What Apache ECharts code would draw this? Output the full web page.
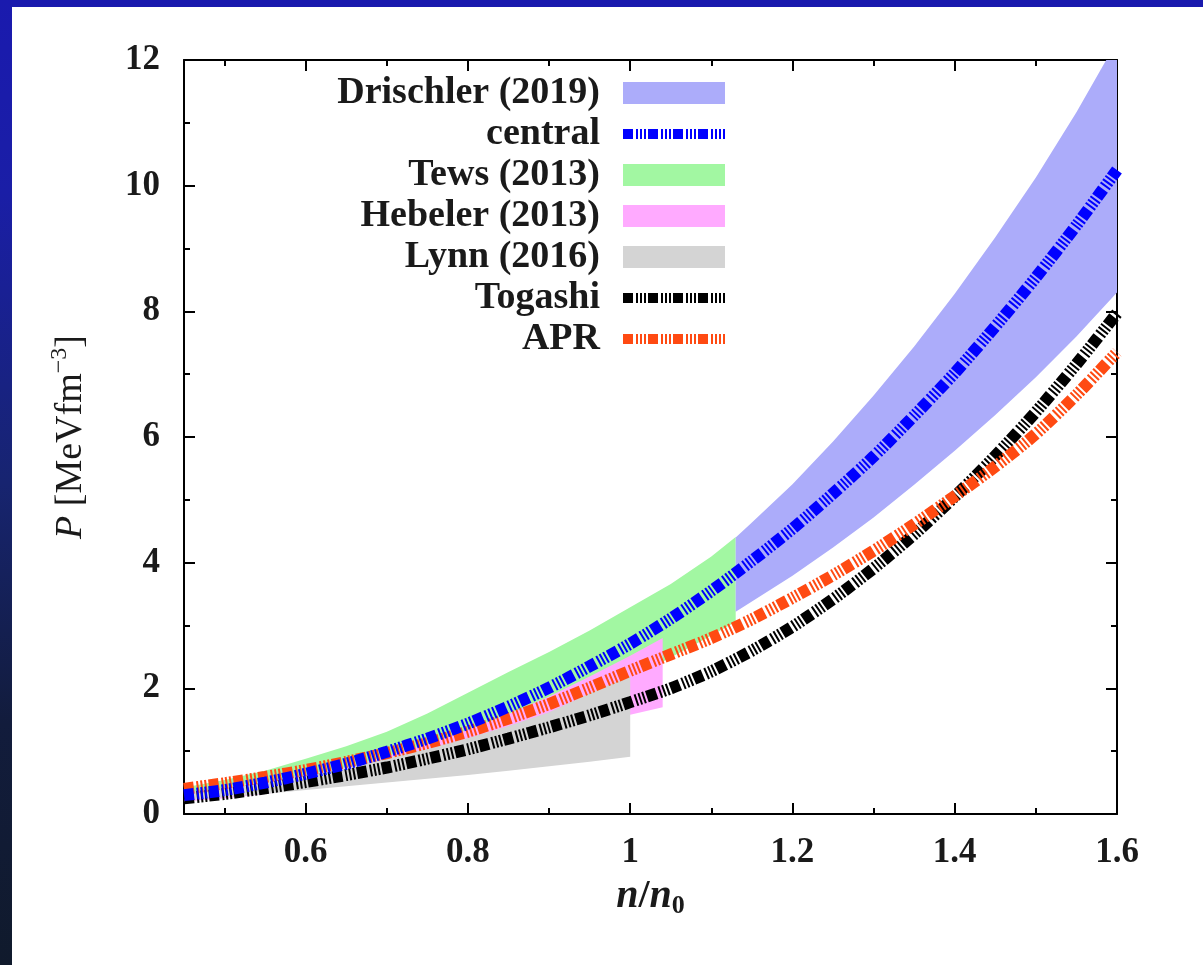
<!DOCTYPE html>
<html>
<head>
<meta charset="utf-8">
<script src="https://cdn.jsdelivr.net/npm/echarts@6/dist/echarts.min.js"></script>
<style>
  html, body {
    margin: 0; padding: 0; width: 1203px; height: 965px; overflow: hidden;
    background: linear-gradient(to bottom, #1a1aae 0%, #1a1ea6 20%, #172470 50%, #121c3c 75%, #101a2c 100%);
  }
  #panel { position: absolute; left: 12px; top: 7px; right: 0; bottom: 0; background: #ffffff; }
  #chart { position: absolute; left: 0; top: 0; width: 1203px; height: 965px; }
</style>
</head>
<body>
<div id="panel"></div>
<div id="chart"></div>
<script>
// Density grid n/n0 shared by the three EOS curves
const nRatio = [0.45, 0.50, 0.55, 0.60, 0.65, 0.70, 0.75, 0.80, 0.85, 0.90, 0.95, 1.00,
                1.05, 1.10, 1.15, 1.20, 1.25, 1.30, 1.35, 1.40, 1.45, 1.50, 1.55, 1.60];
// Pressure P [MeV fm^-3]
const central = [0.30, 0.38, 0.50, 0.64, 0.80, 0.99, 1.20, 1.44, 1.71, 2.01, 2.35, 2.71,
                 3.11, 3.55, 4.03, 4.54, 5.10, 5.69, 6.34, 7.02, 7.76, 8.54, 9.37, 10.25];
const togashi = [0.25, 0.32, 0.41, 0.51, 0.62, 0.74, 0.88, 1.03, 1.20, 1.38, 1.57, 1.78,
                 2.00, 2.27, 2.60, 2.98, 3.42, 3.91, 4.45, 5.05, 5.70, 6.40, 7.16, 7.97];
const apr     = [0.40, 0.49, 0.59, 0.70, 0.83, 0.97, 1.13, 1.31, 1.52, 1.75, 2.01, 2.28,
                 2.54, 2.80, 3.10, 3.44, 3.80, 4.19, 4.61, 5.06, 5.53, 6.05, 6.67, 7.35];

// Uncertainty bands: density, upper and lower pressure
const drischlerN  = [1.13, 1.15, 1.20, 1.25, 1.30, 1.35, 1.40, 1.45, 1.50, 1.55, 1.60];
const drischlerHi = [4.40, 4.64, 5.25, 5.93, 6.66, 7.44, 8.28, 9.18, 10.13, 11.17, 12.30];
const drischlerLo = [3.22, 3.38, 3.79, 4.24, 4.72, 5.24, 5.78, 6.35, 6.95, 7.60, 8.30];

const tewsN  = [0.45, 0.50, 0.55, 0.60, 0.65, 0.70, 0.75, 0.80, 0.85, 0.90, 0.95, 1.00, 1.05, 1.10, 1.13];
const tewsHi = [0.42, 0.54, 0.69, 0.88, 1.08, 1.31, 1.60, 1.93, 2.26, 2.58, 2.92, 3.29, 3.66, 4.10, 4.41];
const tewsLo = [0.24, 0.31, 0.40, 0.51, 0.64, 0.78, 0.95, 1.15, 1.37, 1.61, 1.88, 2.17, 2.49, 2.84, 3.06];

const hebelerN  = [0.45, 0.50, 0.55, 0.60, 0.65, 0.70, 0.75, 0.80, 0.85, 0.90, 0.95, 1.00, 1.04];
const hebelerHi = [0.28, 0.35, 0.47, 0.60, 0.74, 0.92, 1.12, 1.34, 1.59, 1.87, 2.19, 2.52, 2.80];
const hebelerLo = [0.20, 0.25, 0.32, 0.41, 0.51, 0.63, 0.77, 0.93, 1.10, 1.29, 1.45, 1.58, 1.70];

const lynnN  = [0.45, 0.50, 0.55, 0.60, 0.65, 0.70, 0.75, 0.80, 0.85, 0.90, 0.95, 1.00];
const lynnHi = [0.34, 0.42, 0.52, 0.63, 0.75, 0.89, 1.04, 1.21, 1.40, 1.62, 1.92, 2.20];
const lynnLo = [0.22, 0.27, 0.32, 0.38, 0.44, 0.50, 0.56, 0.62, 0.69, 0.76, 0.83, 0.91];

// Axis ticks
const xMajorTicks = [0.6, 0.8, 1, 1.2, 1.4, 1.6];
const xMinorTicks = [0.5, 0.7, 0.9, 1.1, 1.3, 1.5];

const SERIF = "'Liberation Serif', 'DejaVu Serif', serif";
const INK = '#1a1a1a';
const dashPattern = [10, 3, 2, 2, 2, 2, 2, 2];

function pairs(xs, ys) { return xs.map((x, i) => [x, ys[i]]); }

// Filled band between an upper and a lower curve, drawn as one polygon
function band(name, xs, hi, lo, color, z) {
  return {
    name: name,
    type: 'custom',
    z: z,
    clip: true,
    silent: true,
    itemStyle: { color: color },
    encode: { x: 0, y: 1 },
    data: pairs(xs, hi),
    renderItem: function (params, api) {
      if (params.dataIndex !== 0) return null;
      const pts = [];
      for (let i = 0; i < xs.length; i++) pts.push(api.coord([xs[i], hi[i]]));
      for (let i = xs.length - 1; i >= 0; i--) pts.push(api.coord([xs[i], lo[i]]));
      const cs = params.coordSys;
      return {
        type: 'polygon',
        shape: { points: pts },
        style: { fill: color },
        clipPath: { type: 'rect', shape: { x: cs.x, y: cs.y, width: cs.width, height: cs.height } }
      };
    }
  };
}

function curve(name, ys, color, z) {
  return {
    name: name,
    type: 'line',
    z: z,
    data: pairs(nRatio, ys),
    symbol: 'none',
    showSymbol: false,
    smooth: 0.25,
    silent: true,
    itemStyle: { color: color },
    lineStyle: { color: color, width: 12, type: dashPattern, cap: 'butt' }
  };
}

const axisLine = { show: true, onZero: false, lineStyle: { color: '#000', width: 2 } };
const tickStyle = { color: '#000', width: 2 };
const labelStyle = { fontFamily: SERIF, fontWeight: 'bold', fontSize: 35, color: INK };

function xAxisDef(position, ticks, len, showLine, showLabel) {
  return {
    type: 'value', min: 0.45, max: 1.6, position: position,
    axisLine: showLine ? axisLine : { show: false, onZero: false },
    axisTick: { show: true, inside: true, length: len, customValues: ticks, lineStyle: tickStyle },
    axisLabel: showLabel
      ? Object.assign({ show: true, customValues: ticks, margin: 21, showMinLabel: true, showMaxLabel: true }, labelStyle)
      : { show: false },
    splitLine: { show: false }
  };
}

function yAxisDef(position, showLabel) {
  return {
    type: 'value', min: 0, max: 12, interval: 2, position: position,
    axisLine: axisLine,
    axisTick: { show: true, inside: true, length: 11, lineStyle: tickStyle },
    minorTick: { show: true, splitNumber: 2, length: 6, lineStyle: tickStyle },
    axisLabel: showLabel ? Object.assign({ show: true, margin: 24 }, labelStyle) : { show: false },
    splitLine: { show: false }
  };
}

const xMain = xAxisDef('bottom', xMajorTicks, 11, true, true);
xMain.name = '{i|n}{t|/}{i|n}{s|0}';
xMain.nameLocation = 'middle';
xMain.nameGap = 41;
xMain.nameTextStyle = {
  fontFamily: SERIF, fontSize: 40, fontWeight: 'bold', color: INK, lineHeight: 44,
  rich: {
    i: { fontFamily: SERIF, fontSize: 40, fontWeight: 'bold', fontStyle: 'italic', color: INK, lineHeight: 44 },
    t: { fontFamily: SERIF, fontSize: 40, fontWeight: 'bold', color: INK, lineHeight: 44 },
    s: { fontFamily: SERIF, fontSize: 26, fontWeight: 'bold', color: INK, lineHeight: 26, verticalAlign: 'bottom' }
  }
};

const yMain = yAxisDef('left', true);
yMain.name = '{i|P} [MeVfm{s|−3}]';
yMain.nameLocation = 'middle';
yMain.nameRotate = 90;
yMain.nameGap = 90;
yMain.nameTextStyle = {
  fontFamily: SERIF, fontSize: 38, color: INK, lineHeight: 46,
  rich: {
    i: { fontFamily: SERIF, fontSize: 38, fontStyle: 'italic', color: INK, lineHeight: 46 },
    s: { fontFamily: SERIF, fontSize: 24, color: INK, lineHeight: 24, verticalAlign: 'top' }
  }
};

const legendNames = ['Drischler (2019)', 'central', 'Tews (2013)', 'Hebeler (2013)', 'Lynn (2016)', 'Togashi', 'APR'];
const lineIcon = { width: 10, type: dashPattern, cap: 'butt' };
const hiddenMarker = { opacity: 0 };

const option = {
  animation: false,
  backgroundColor: 'transparent',
  grid: { left: 184, right: 86, top: 60, bottom: 151, containLabel: false },
  xAxis: [
    xMain,
    xAxisDef('bottom', xMinorTicks, 6, false, false),
    xAxisDef('top', xMajorTicks, 11, true, false),
    xAxisDef('top', xMinorTicks, 6, false, false)
  ],
  yAxis: [yMain, yAxisDef('right', false)],
  legend: {
    orient: 'vertical',
    left: 320,
    top: 74,
    padding: 0,
    itemGap: 3,
    align: 'right',
    itemWidth: 102,
    itemHeight: 22,
    selectedMode: false,
    formatter: '{a|{name}}{g| }',
    textStyle: {
      fontFamily: SERIF, fontWeight: 'bold', fontSize: 38, color: INK,
      rich: {
        a: { width: 280, align: 'right', fontFamily: SERIF, fontWeight: 'bold', fontSize: 38, color: INK, lineHeight: 36 },
        g: { width: 18, fontSize: 38, lineHeight: 36 }
      }
    },
    data: [
      { name: legendNames[0], icon: 'rect' },
      { name: legendNames[1], lineStyle: lineIcon, itemStyle: hiddenMarker },
      { name: legendNames[2], icon: 'rect' },
      { name: legendNames[3], icon: 'rect' },
      { name: legendNames[4], icon: 'rect' },
      { name: legendNames[5], lineStyle: lineIcon, itemStyle: hiddenMarker },
      { name: legendNames[6], lineStyle: lineIcon, itemStyle: hiddenMarker }
    ]
  },
  series: [
    band(legendNames[2], tewsN, tewsHi, tewsLo, '#a2f7a2', 1),
    band(legendNames[3], hebelerN, hebelerHi, hebelerLo, '#ffaaff', 2),
    band(legendNames[4], lynnN, lynnHi, lynnLo, '#d4d4d4', 3),
    band(legendNames[0], drischlerN, drischlerHi, drischlerLo, '#acacfa', 3),
    curve(legendNames[5], togashi, '#000000', 5),
    curve(legendNames[6], apr, '#ff4a12', 6),
    curve(legendNames[1], central, '#0000ff', 7)
  ]
};

const chart = echarts.init(document.getElementById('chart'), null, { renderer: 'canvas' });
chart.setOption(option);
</script>
</body>
</html>
